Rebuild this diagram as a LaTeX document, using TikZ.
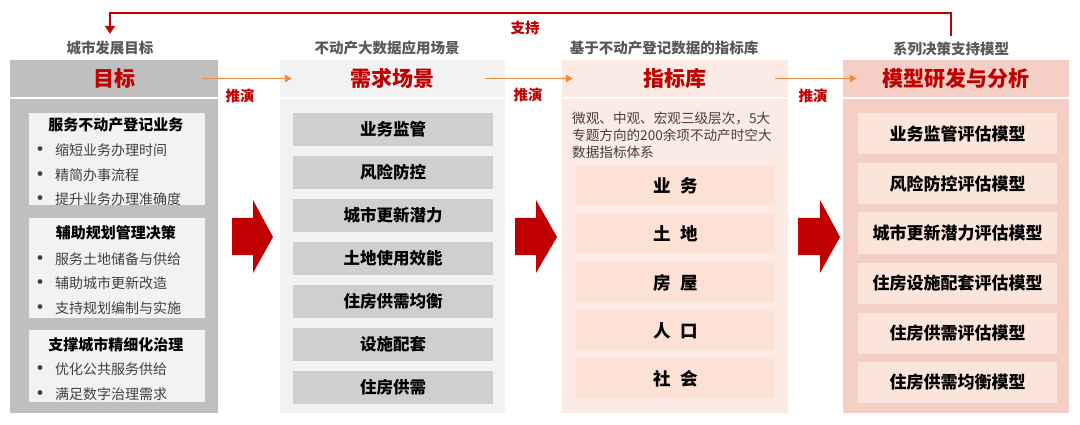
\documentclass[tikz,border=0pt]{standalone}
\usepackage{fontspec}
\setmainfont{Noto Sans CJK SC}
\usetikzlibrary{arrows.meta,calc}
\definecolor{redT}{HTML}{C00000}
\definecolor{orangeL}{HTML}{F08A3E}
\definecolor{labG}{HTML}{595959}
\definecolor{txtG}{HTML}{404040}
\definecolor{c1bg}{HTML}{BFBFBF}
\definecolor{c1in}{HTML}{F2F2F2}
\definecolor{c2bg}{HTML}{F2F2F2}
\definecolor{c2in}{HTML}{D0CECE}
\definecolor{c3bg}{HTML}{FCEAE5}
\definecolor{c3in}{HTML}{FCE1D4}
\definecolor{c4bg}{HTML}{F5CEC5}
\definecolor{c4in}{HTML}{FBE5DA}
\begin{document}
\begin{tikzpicture}[x=1pt,y=-1pt,
  hdr/.style={inner sep=0pt, minimum height=37pt, font=\fontsize{21}{24}\selectfont\bfseries, text=redT},
  bodybox/.style={inner sep=0pt, minimum height=314pt},
  lab/.style={inner sep=2pt, font=\fontsize{14.5}{16}\selectfont\bfseries, text=labG},
  tui/.style={inner sep=1pt, font=\fontsize{14.5}{16}\selectfont\bfseries, text=redT},
  gtitle/.style={inner sep=0pt, font=\fontsize{15}{17}\selectfont\bfseries, text=black},
  bdot/.style={inner sep=0pt, font=\fontsize{17}{18}\selectfont\bfseries, text=txtG},
  btxt/.style={inner sep=0pt, anchor=west, font=\fontsize{14}{16}\selectfont, text=txtG},
  sitem/.style={fill=c2in, inner sep=0pt, minimum width=200pt, minimum height=33pt, font=\fontsize{16.5}{18}\selectfont\bfseries},
  iitem/.style={fill=c3in, inner sep=0pt, minimum width=199pt, minimum height=39pt, font=\fontsize{17.5}{19}\selectfont\bfseries},
  mitem/.style={fill=c4in, inner sep=0pt, minimum width=199pt, minimum height=41pt, font=\fontsize{17}{19}\selectfont\bfseries},
  dtxt/.style={inner sep=0pt, anchor=west, font=\fontsize{13.6}{16}\selectfont, text=txtG},
  tuiline/.style={draw=orangeL, line width=1.6pt, -{Triangle[width=7.5pt,length=7pt]}},
  fbline/.style={draw=redT, line width=1.8pt, -{Triangle[width=10pt,length=8pt]}},
  bigarrow/.style={fill=redT}
]
\useasboundingbox (0,0) rectangle (1080,425);

% column labels
\node[lab] (lab1) at (110,48) {城市发展目标};
\node[lab] (lab2) at (387,48) {不动产大数据应用场景};
\node[lab] (lab3) at (664,48) {基于不动产登记数据的指标库};
\node[lab] (lab4) at (951,49) {系列决策支持模型};

% column 1
\node[bodybox, fill=c1bg, minimum width=208pt] (b1) at (114,256) {};
\node[hdr, fill=c1bg, minimum width=208pt] (h1) at (114,78.5) {目标};
\node[fill=c1in, inner sep=0pt, minimum width=176pt, minimum height=92pt] (g1) at (117,159) {};
\node[fill=c1in, inner sep=0pt, minimum width=176pt, minimum height=100pt] (g2) at (117,268) {};
\node[fill=c1in, inner sep=0pt, minimum width=176pt, minimum height=72pt] (g3) at (117,366) {};
\node[gtitle] (g1t) at (116,125) {服务不动产登记业务};
\node[bdot] (d11) at (40,151) {•}; \node[btxt] (t11) at (55,150) {缩短业务办理时间};
\node[bdot] (d12) at (40,176) {•}; \node[btxt] (t12) at (55,175) {精简办事流程};
\node[bdot] (d13) at (40,200) {•}; \node[btxt] (t13) at (55,199) {提升业务办理准确度};
\node[gtitle] (g2t) at (116,233) {辅助规划管理决策};
\node[bdot] (d21) at (40,260) {•}; \node[btxt] (t21) at (55,259) {服务土地储备与供给};
\node[bdot] (d22) at (40,284) {•}; \node[btxt] (t22) at (55,283) {辅助城市更新改造};
\node[bdot] (d23) at (40,309) {•}; \node[btxt] (t23) at (55,308) {支持规划编制与实施};
\node[gtitle] (g3t) at (116,345) {支撑城市精细化治理};
\node[bdot] (d31) at (40,370) {•}; \node[btxt] (t31) at (55,369) {优化公共服务供给};
\node[bdot] (d32) at (40,395) {•}; \node[btxt] (t32) at (55,394) {满足数字治理需求};

% column 2
\node[bodybox, fill=c2bg, minimum width=225pt] (b2) at (392.5,256) {};
\node[hdr, fill=c2bg, minimum width=225pt] (h2) at (392.5,78.5) {需求场景};
\node[sitem] (s1) at (393,129.5) {业务监管};
\node[sitem] (s2) at (393,172.5) {风险防控};
\node[sitem] (s3) at (393,215.5) {城市更新潜力};
\node[sitem] (s4) at (393,258.5) {土地使用效能};
\node[sitem] (s5) at (393,301.5) {住房供需均衡};
\node[sitem] (s6) at (393,344.5) {设施配套};
\node[sitem] (s7) at (393,387.5) {住房供需};

% column 3
\node[bodybox, fill=c3bg, minimum width=226pt] (b3) at (675,256) {};
\node[hdr, fill=c3bg, minimum width=226pt] (h3) at (675,78.5) {指标库};
\node[dtxt] (x1) at (572,118) {微观、中观、宏观三级层次，5大};
\node[dtxt] (x2) at (572,135) {专题方向的200余项不动产时空大};
\node[dtxt] (x3) at (572,152) {数据指标体系};
\node[iitem] (k1) at (675.5,185.5) {业\hspace{0.55em}务};
\node[iitem] (k2) at (675.5,233.5) {土\hspace{0.55em}地};
\node[iitem] (k3) at (675.5,282.5) {房\hspace{0.55em}屋};
\node[iitem] (k4) at (675.5,330.5) {人\hspace{0.55em}口};
\node[iitem] (k5) at (675.5,378.5) {社\hspace{0.55em}会};

% column 4
\node[bodybox, fill=c4bg, minimum width=226pt] (b4) at (956,256) {};
\node[hdr, fill=c4bg, minimum width=226pt] (h4) at (956,78.5) {模型研发与分析};
\node[mitem] (m1) at (957.5,133.5) {业务监管评估模型};
\node[mitem] (m2) at (957.5,183.5) {风险防控评估模型};
\node[mitem] (m3) at (957.5,233) {城市更新潜力评估模型};
\node[mitem] (m4) at (957.5,283) {住房设施配套评估模型};
\node[mitem] (m5) at (957.5,333) {住房供需评估模型};
\node[mitem] (m6) at (957.5,382) {住房供需均衡模型};

% orange "推演" connectors
\draw[tuiline] ($(h1.east)+(-16,0)$) -- ($(h2.west)+(12,0)$);
\draw[tuiline] ($(h2.east)+(-20,0)$) -- ($(h3.west)+(11,0)$);
\draw[tuiline] ($(h3.east)+(-13,0)$) -- ($(h4.west)+(14,0)$);
\node[tui] (tu1) at (240,96) {推演};
\node[tui] (tu2) at (528,95) {推演};
\node[tui] (tu3) at (813,96) {推演};

% feedback connector
\coordinate (top) at (530,13);
\draw[fbline] ([yshift=4pt]lab4.north) |- (top) -| ([yshift=5pt]lab1.north);
\node[tui] (zc) at (525,28) {支持};

% big red block arrows
\fill[bigarrow] (232,218) -- (253,218) -- (253,200) -- (273,237) -- (253,273) -- (253,255) -- (232,255) -- cycle;
\fill[bigarrow] (515,218) -- (536,218) -- (536,200) -- (557,237) -- (536,273) -- (536,255) -- (515,255) -- cycle;
\fill[bigarrow] (798,218) -- (820,218) -- (820,200) -- (840,237) -- (820,273) -- (820,255) -- (798,255) -- cycle;
\end{tikzpicture}
\end{document}
